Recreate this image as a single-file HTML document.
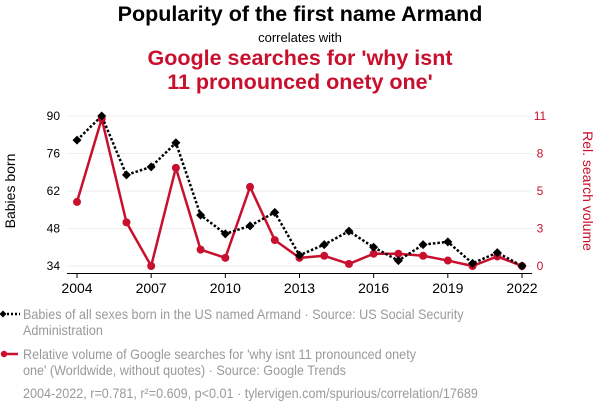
<!DOCTYPE html>
<html><head><meta charset="utf-8"><style>
body{margin:0;width:600px;height:414px;background:#fff;font-family:"Liberation Sans",sans-serif;overflow:hidden;position:relative}
.t{position:absolute;left:0;width:600px;text-align:center}
.leg{position:absolute;left:23px;color:#9a9a9a;font-size:14px;line-height:16px;transform:scaleX(0.9);transform-origin:0 0;white-space:nowrap}
</style></head><body>
<div class="t" style="top:2px;font-size:21.5px;font-weight:bold;color:#000">Popularity of the first name Armand</div>
<div class="t" style="top:30px;font-size:13px;color:#000">correlates with</div>
<div class="t" style="top:46px;font-size:21.5px;font-weight:bold;color:#c8102e;line-height:24px">Google searches for 'why isnt<br>11 pronounced onety one'</div>
<svg id="c" width="600" height="300" style="position:absolute;left:0;top:0"></svg>
<div class="leg" style="top:306px">Babies of all sexes born in the US named Armand · Source: US Social Security<br>Administration</div>
<svg width="24" height="10" style="position:absolute;left:0;top:309px"><line x1="3" y1="5" x2="20" y2="5" stroke="#000" stroke-width="2.5" stroke-dasharray="2,2"/><path d="M3 1.5L6.5 5L3 8.5L-0.5 5Z" fill="#000"/></svg>
<div class="leg" style="top:346px">Relative volume of Google searches for 'why isnt 11 pronounced onety<br>one' (Worldwide, without quotes) · Source: Google Trends</div>
<svg width="24" height="10" style="position:absolute;left:0;top:349px"><line x1="3" y1="5" x2="18" y2="5" stroke="#c8102e" stroke-width="2.5"/><circle cx="4" cy="5" r="3.2" fill="#c8102e"/></svg>
<div class="leg" style="top:385px">2004-2022, r=0.781, r²=0.609, p&lt;0.01 · tylervigen.com/spurious/correlation/17689</div>
<script>
const years=[2004,2005,2006,2007,2008,2009,2010,2011,2012,2013,2014,2015,2016,2017,2018,2019,2020,2021,2022];
const babies=[81,90,68,71,80,53,46,49,54,38,42,47,41,36,42,43,35,39,34];
const searches=[4.7,10.8,3.2,0,7.2,1.2,0.6,5.8,1.9,0.6,0.75,0.15,0.9,0.9,0.75,0.4,0,0.7,0];
const leftTicks=[34,48,62,76,90];
const rightTicks=[0,3,5,8,11];
const xTicks=[2004,2007,2010,2013,2016,2019,2022];
const NS='http://www.w3.org/2000/svg';const svg=document.getElementById('c');
const x=v=>77+(v-2004)*(522-77)/18;
const yL=v=>266-(v-34)*150/56;
const yR=v=>266-v*150/11;
function mk(t,a){const e=document.createElementNS(NS,t);for(const k in a)e.setAttribute(k,a[k]);svg.appendChild(e);return e;}
leftTicks.forEach((v,i)=>{
 const g=mk('line',{x1:67,x2:532,y1:yL(v),y2:yL(v),stroke:'#eee','stroke-width':1});
 
 
 const t=mk('text',{x:60,y:yL(v)+4,'text-anchor':'end','font-size':12,fill:'#000'});t.textContent=v;
 
 
 const r=rightTicks[i];
 const t2=mk('text',{x:540,y:yL(v)+4,'text-anchor':'middle','font-size':12,fill:'#c8102e'});t2.textContent=r;
 
 
});
const ax=mk('line',{x1:67,x2:532,y1:273.5,y2:273.5,stroke:'#000','stroke-width':1});


xTicks.forEach(v=>{
 const tk=mk('line',{x1:x(v),x2:x(v),y1:273.5,y2:278,stroke:'#000'});
 
 
 const t=mk('text',{x:x(v),y:293,'text-anchor':'middle','font-size':14,fill:'#000'});t.textContent=v;
 
 
});
const yt=mk('text',{x:0,y:0,transform:'translate(15,191) rotate(-90)','text-anchor':'middle','font-size':14,fill:'#000'});yt.textContent='Babies born';


const yt2=mk('text',{x:0,y:0,transform:'translate(583,191) rotate(90)','text-anchor':'middle','font-size':14,fill:'#c8102e'});yt2.textContent='Rel. search volume';


const rl=mk('polyline',{points:years.map((y,i)=>x(y)+','+yR(searches[i])).join(' '),fill:'none',stroke:'#c8102e','stroke-width':2.5,'stroke-linejoin':'round'});


const bl=mk('polyline',{points:years.map((y,i)=>x(y)+','+yL(babies[i])).join(' '),fill:'none',stroke:'#000','stroke-width':2.5,'stroke-dasharray':'2.5,2'});


years.forEach((y,i)=>{
 const c=mk('circle',{cx:x(y),cy:yR(searches[i]),r:4,fill:'#c8102e'});
 
 
});
years.forEach((y,i)=>{
 const X=x(y),Y=yL(babies[i]);
 const p=mk('path',{d:`M${X} ${Y-4.5}L${X+4.5} ${Y}L${X} ${Y+4.5}L${X-4.5} ${Y}Z`,fill:'#000'});
 
 
});
</script>
</body></html>
